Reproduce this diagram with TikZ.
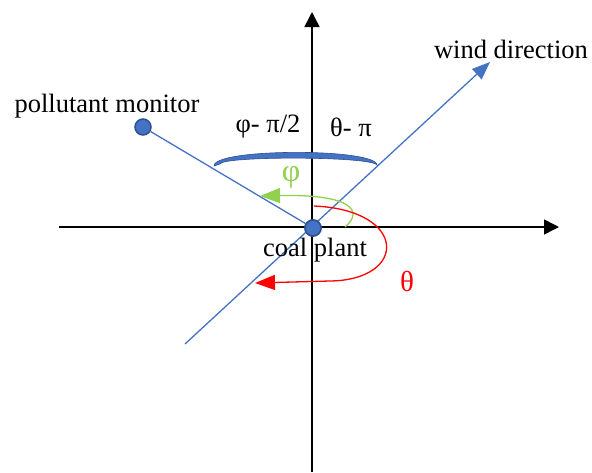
\documentclass[tikz,border=0pt]{standalone}
\usepackage{fontspec}
\setmainfont{Liberation Serif}
\usetikzlibrary{arrows.meta}
\definecolor{ublue}{RGB}{68,114,196}
\definecolor{dblue}{RGB}{47,82,143}
\definecolor{ugreen}{RGB}{146,208,80}
\begin{document}
\begin{tikzpicture}[x=1pt,y=-1pt,
  axis/.style={line width=1.5pt,black,-{Triangle[length=15pt,width=15pt]}},
  bline/.style={line width=1.3pt,ublue},
  dot/.style={circle,fill=ublue,draw=dblue,line width=1.5pt,minimum size=16pt,inner sep=0pt},
  lbl/.style={font=\fontsize{26.5}{30}\selectfont,inner sep=0pt}]
\useasboundingbox (0,0) rectangle (592,472);
% axes
\coordinate (xl) at (59,227);
\coordinate (xr) at (559,227);
\coordinate (yb) at (312,472);
\coordinate (yt) at (312,12);
\draw[axis] (xl) -- (xr);
\draw[axis] (yb) -- (yt);
% wind direction line
\coordinate (wl) at (185,344);
\coordinate (wt) at (490,62);
\draw[bline,-{Triangle[length=18pt,width=14pt]}] (wl) -- (wt);
% nodes
\node[dot] (plant) at (313,228) {};
\node[dot] (mon) at (143,127) {};
\draw[bline] (mon) -- (plant.center);
\node[dot] at (313,228) {};
% thick blue arc
\fill[ublue,draw=dblue,line width=0.6pt] (214,166) .. controls (213,148) and (376,148) .. (377,165)
  .. controls (370,156) and (222,156) .. (220,164) -- cycle;
% green arrow
\coordinate (gs) at (345,227);
\coordinate (ge) at (260,196);
\draw[ugreen,line width=1.3pt,-{Triangle[length=20pt,width=15pt]}] (gs) .. controls (364,211) and (352,194) .. (ge);
% red arrow
\coordinate (rs) at (314,206);
\coordinate (rm) at (330,281);
\coordinate (re) at (255,283);
\draw[red,line width=1.3pt,-{Triangle[length=20pt,width=15pt]}] (rs) .. controls (408,210) and (408,280) .. (rm) -- (re);
% labels
\node[lbl] (tmon) at (107,106) {pollutant monitor};
\node[lbl] (twind) at (511,49) {wind direction};
\node[lbl] (tplant) at (315,250) {coal plant};
\node[lbl] (tpm) at (268,127) {φ- π/2};
\node[lbl] (ttp) at (351,127) {θ- π};
\node[lbl,text=ugreen,font=\fontsize{32}{34}\selectfont] (tphi) at (291,177) {φ};
\node[lbl,text=red,font=\fontsize{29}{30}\selectfont] (ttheta) at (407,281) {θ};
\end{tikzpicture}
\end{document}
